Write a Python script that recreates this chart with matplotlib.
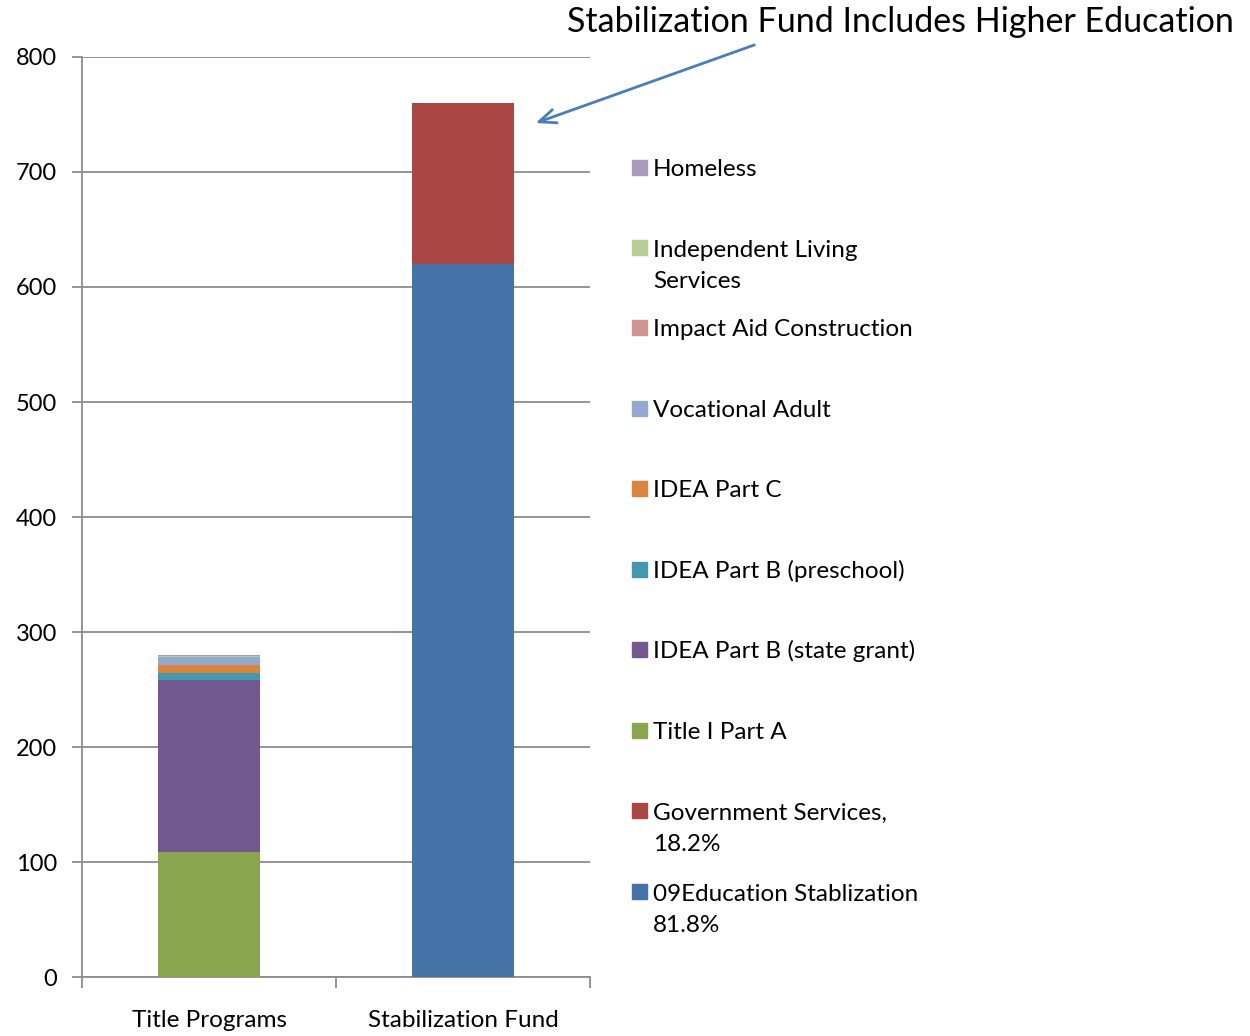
import matplotlib
matplotlib.use("Agg")
import matplotlib.pyplot as plt
from matplotlib.patches import Rectangle

plt.rcParams['font.family'] = ['Lato', 'DejaVu Sans']

categories = ['Title Programs', 'Stabilization Fund']
# stacking order bottom -> top
series = ['09Education Stablization\n81.8%', 'Government Services,\n18.2%', 'Title I Part A',
          'IDEA Part B (state grant)', 'IDEA Part B (preschool)', 'IDEA Part C',
          'Vocational Adult', 'Impact Aid Construction', 'Independent Living\nServices', 'Homeless']
values = [
    [0, 620],
    [0, 140],
    [108.7, 0],
    [149.8, 0],
    [5.5, 0],
    [7.0, 0],
    [7.0, 0],
    [0.6, 0],
    [0.2, 0],
    [1.4, 0],
]
colors = ['#4572A7', '#AA4643', '#89A54E', '#71588F', '#4198AF', '#DB843D',
          '#93A9CF', '#D19392', '#B9CD96', '#A99BBD']

fig = plt.figure(figsize=(12.5, 10.36), dpi=100)
ax = fig.add_axes([0.0656, 0.0569, 0.4064, 0.8881])

x = [0, 1]
bottom = [0, 0]
for name, vals, c in zip(series, values, colors):
    ax.bar(x, vals, 0.4, bottom=bottom, color=c, zorder=3)
    bottom = [b + v for b, v in zip(bottom, vals)]

ax.set_ylim(0, 800)
ax.set_xlim(-0.5, 1.5)
ax.set_yticks(range(0, 801, 100))
ax.yaxis.grid(True, color='#8c8c8c', linewidth=1.3, zorder=0)
ax.tick_params(axis='y', labelsize=17, length=7, color='#8c8c8c', width=1.3, pad=11)
ax.set_xticks(x)
ax.set_xticklabels(categories, fontsize=17.5)
ax.tick_params(axis='x', length=0, pad=24)
ax.set_xticks([-0.5, 0.5, 1.5], minor=True)
ax.tick_params(axis='x', which='minor', length=8, color='#8c8c8c', width=1.3)
for s in ['top', 'right']:
    ax.spines[s].set_visible(False)
for s in ['left', 'bottom']:
    ax.spines[s].set_color('#8c8c8c')
    ax.spines[s].set_linewidth(1.3)

# legend, drawn top-down in reverse stacking order
leg_y = [168, 248, 328, 409, 489, 570, 650, 731, 811, 892]
line_px = 32
for yy, name, c in zip(leg_y, series[::-1], colors[::-1]):
    fy = 1 - yy / 1036
    fig.patches.append(Rectangle((632 / 1250, fy - 7 / 1036), 15 / 1250, 15 / 1036,
                                 transform=fig.transFigure, color=c))
    extra = name.count('\n') * line_px
    fig.text(653 / 1250, fy - (8 + extra) / 1036, name, fontsize=17.5, va='baseline',
             ha='left', linespacing=1.6)

fig.text(567 / 1250, 1 - 22 / 1036, 'Stabilization Fund Includes Higher Education',
         fontsize=24.5, va='center', ha='left')
ax.annotate('', xy=(533 / 1250, 1 - 124 / 1036), xycoords='figure fraction',
            xytext=(757 / 1250, 1 - 44 / 1036), textcoords='figure fraction',
            arrowprops=dict(arrowstyle='->,head_length=1.2,head_width=0.5',
                            color='#4a7ebb', linewidth=2))

fig.savefig('out.png', dpi=100)
